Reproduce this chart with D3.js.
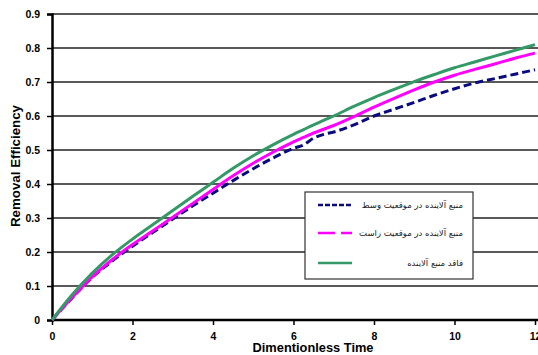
<!DOCTYPE html>
<html>
<head>
<meta charset="utf-8">
<script src="https://cdn.jsdelivr.net/npm/d3@7"></script>
<style>
  body { margin: 0; background: #fff; }
  text { font-family: "Liberation Sans", Arial, sans-serif; }
</style>
</head>
<body>
<svg id="chart" width="538" height="355"></svg>
<script>
// values
const times = [0, 0.5, 1, 1.5, 2, 2.5, 3, 3.5, 4, 4.5, 5, 5.5, 6, 6.25, 6.5, 6.75, 7, 7.5, 8, 8.5, 9, 9.5, 10, 10.5, 11, 11.5, 12];
const middleSource = [0, 0.065, 0.125, 0.174, 0.217, 0.257, 0.297, 0.336, 0.373, 0.41, 0.445, 0.477, 0.505, 0.515, 0.535, 0.546, 0.553, 0.574, 0.6, 0.62, 0.64, 0.661, 0.68, 0.697, 0.71, 0.723, 0.736];
const rightSource = [0, 0.066, 0.127, 0.178, 0.222, 0.262, 0.302, 0.343, 0.384, 0.424, 0.461, 0.494, 0.524, 0.537, 0.55, 0.561, 0.572, 0.598, 0.626, 0.652, 0.677, 0.7, 0.72, 0.737, 0.753, 0.77, 0.785];
const noSource = [0, 0.074, 0.138, 0.192, 0.238, 0.28, 0.322, 0.364, 0.405, 0.446, 0.483, 0.516, 0.546, 0.56, 0.574, 0.587, 0.6, 0.628, 0.654, 0.678, 0.701, 0.722, 0.742, 0.759, 0.776, 0.793, 0.81];
const seriesNames = ["منبع آلاینده در موقعیت وسط", "منبع آلاینده در موقعیت راست", "فاقد منبع آلاینده"];
const xTicks = [0, 2, 4, 6, 8, 10, 12];
const yTicks = [0, 0.1, 0.2, 0.3, 0.4, 0.5, 0.6, 0.7, 0.8, 0.9];

const svg = d3.select("#chart");
const plotLeft = 52, plotRight = 538, plotTop = 14, plotBottom = 320;

const x = d3.scaleLinear().domain([0, 12]).range([plotLeft, 535]);
const y = d3.scaleLinear().domain([0, 0.9]).range([plotBottom, plotTop]);

// horizontal grid
svg.append("g")
  .selectAll("line")
  .data(yTicks.filter(d => d > 0))
  .enter().append("line")
  .attr("x1", plotLeft).attr("x2", plotRight)
  .attr("y1", d => y(d)).attr("y2", d => y(d))
  .style("stroke", "#222")
  .style("stroke-width", 1.5);

// y axis
const yAxis = svg.append("g")
  .attr("transform", `translate(${plotLeft},0)`)
  .call(d3.axisLeft(y).tickValues(yTicks).tickFormat(d => d === 0 ? "0" : d3.format(".1f")(d)).tickSize(5).tickPadding(7));
yAxis.select(".domain").style("stroke", "#000").style("stroke-width", 2.5);
yAxis.selectAll(".tick line").style("stroke", "#000").style("stroke-width", 1.5);
yAxis.selectAll(".tick text")
  .style("font-size", "10.5px").style("font-weight", "bold").style("fill", "#000");

// x axis
const xAxis = svg.append("g")
  .attr("transform", `translate(0,${plotBottom})`)
  .call(d3.axisBottom(x).tickValues(xTicks).tickSize(5).tickPadding(8));
xAxis.select(".domain").attr("d", `M${plotLeft},0H${plotRight}`).style("stroke", "#000").style("stroke-width", 2.5);
xAxis.selectAll(".tick line").style("stroke", "#000").style("stroke-width", 1.5);
xAxis.selectAll(".tick text")
  .style("font-size", "10.5px").style("font-weight", "bold").style("fill", "#000");

// lines
const series = [
  {vals: middleSource, color: "#0b0b80", dash: "8,4"},
  {vals: rightSource, color: "#ff00ff", dash: null},
  {vals: noSource, color: "#339966", dash: null}
];
const line = d3.line()
  .x((d, i) => x(times[i]))
  .y(d => y(d))
  .curve(d3.curveMonotoneX);

svg.append("g")
  .selectAll("path")
  .data(series)
  .enter().append("path")
  .attr("d", d => line(d.vals))
  .style("fill", "none")
  .style("stroke", d => d.color)
  .style("stroke-width", 3)
  .style("stroke-dasharray", d => d.dash);

// legend
const legend = svg.append("g");
legend.append("rect")
  .attr("x", 305).attr("y", 192)
  .attr("width", 168).attr("height", 87)
  .style("fill", "#fff")
  .style("stroke", "#333")
  .style("stroke-width", 1.2);

const legendDash = ["5,2", "17,6", null];
const legendColors = ["#0b0b80", "#ff00ff", "#339966"];
const rowY = [205, 233, 263];

legend.selectAll("line")
  .data(seriesNames)
  .enter().append("line")
  .attr("x1", 318).attr("x2", 352)
  .attr("y1", (d, i) => rowY[i]).attr("y2", (d, i) => rowY[i])
  .style("stroke", (d, i) => legendColors[i])
  .style("stroke-width", 2.5)
  .style("stroke-dasharray", (d, i) => legendDash[i]);

legend.selectAll("text")
  .data(seriesNames)
  .enter().append("text")
  .attr("x", 463)
  .attr("y", (d, i) => rowY[i] + 3)
  .attr("text-anchor", "end")
  .style("font-family", "'DejaVu Sans', sans-serif")
  .style("font-size", "8.5px")
  .style("fill", "#222")
  .text(d => d);

// axis titles
svg.append("text")
  .attr("x", 313).attr("y", 352)
  .attr("text-anchor", "middle")
  .attr("textLength", 121)
  .attr("lengthAdjust", "spacingAndGlyphs")
  .style("font-size", "13.5px").style("font-weight", "bold")
  .text("Dimentionless Time");

svg.append("text")
  .attr("transform", "translate(20,166) rotate(-90)")
  .attr("text-anchor", "middle")
  .attr("textLength", 122)
  .attr("lengthAdjust", "spacingAndGlyphs")
  .style("font-size", "12.5px").style("font-weight", "bold")
  .text("Removal Efficiency");
</script>
</body>
</html>
